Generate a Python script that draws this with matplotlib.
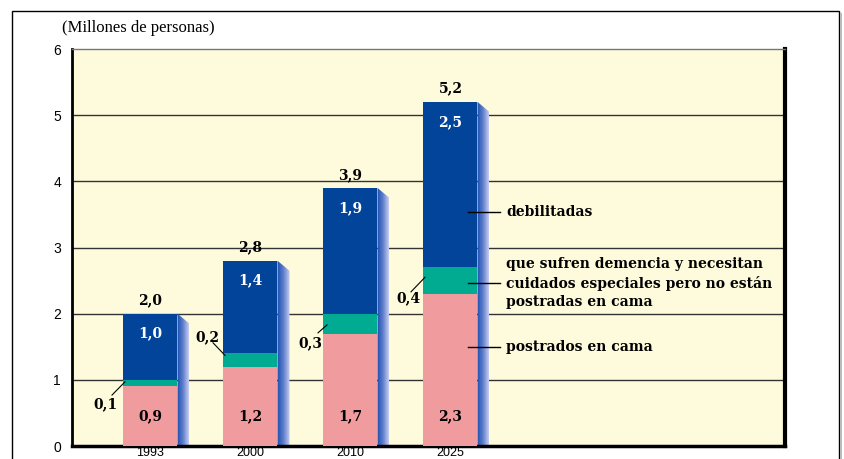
import matplotlib.pyplot as plt
import matplotlib.patches as mpatches
from matplotlib.colors import LinearSegmentedColormap
import numpy as np

years = ['1993', '2000', '2010', '2025']
postrados = [0.9, 1.2, 1.7, 2.3]
demencia = [0.1, 0.2, 0.3, 0.4]
debilitadas = [1.0, 1.4, 1.9, 2.5]
totales = [2.0, 2.8, 3.9, 5.2]

series_labels = ['debilitadas',
                 'que sufren demencia y necesitan\ncuidados especiales pero no están\npostradas en cama',
                 'postrados en cama']

c_pink = '#f09b9e'
c_teal = '#00ab92'
c_blue = '#03449b'
c_bg = '#fefadc'

def fmt(v):
    return f'{v:.1f}'.replace('.', ',')

serif = 'DejaVu Serif'
sans = 'Liberation Sans'

fig = plt.figure(figsize=(8.45, 4.59), dpi=100)
ax = fig.add_axes([72 / 845, 13 / 459, 713 / 845, 397 / 459])
ax.set_facecolor(c_bg)

for y in range(1, 6):
    ax.axhline(y, color='#333333', lw=1.0, zorder=1)

x = np.arange(len(years))
w = 0.54
ax.bar(x, postrados, width=w, color=c_pink, zorder=3)
ax.bar(x, demencia, width=w, bottom=postrados, color=c_teal, zorder=3)
bot2 = np.array(postrados) + np.array(demencia)
ax.bar(x, debilitadas, width=w, bottom=bot2, color=c_blue, zorder=3)

# side shading of each bar (gradient blue -> lavender)
grad = np.linspace(0, 1, 64).reshape(1, -1)
cmap = LinearSegmentedColormap.from_list('side', ['#1a4fb0', '#5f7fcc', '#c8cdef'])
dx = 0.12
dy = 10 / 66.2
for xi, top in zip(x, bot2 + np.array(debilitadas)):
    x0 = xi + w / 2
    poly = mpatches.Polygon([(x0, 0), (x0, top), (x0 + dx, top - dy), (x0 + dx, 0)],
                            closed=True, facecolor='none', edgecolor='none')
    ax.add_patch(poly)
    im = ax.imshow(grad, cmap=cmap, extent=(x0, x0 + dx, 0, top), aspect='auto', zorder=2.5)
    im.set_clip_path(poly)

ax.set_xlim(-0.785, 6.345)
ax.set_ylim(0, 6)

bold = dict(family=serif, fontweight='bold', fontsize=10)
for xi, p, d, b, t in zip(x, postrados, demencia, debilitadas, totales):
    ax.text(xi, t + 0.2, fmt(t), ha='center', va='center', color='black', zorder=5, **bold)
    ax.text(xi, p + d + b - 0.3, fmt(b), ha='center', va='center', color='white', zorder=5, **bold)
    ax.text(xi, 0.45, fmt(p), ha='center', va='center', color='black', zorder=5, **bold)

# teal value labels with leader lines
lbl_pos = [(-0.455, 0.63), (0.565, 1.65), (1.595, 1.56), (2.575, 2.24)]
leaders = [((-0.385, 0.77), (-0.255, 0.97)),
           ((0.625, 1.56), (0.745, 1.37)),
           ((1.675, 1.71), (1.765, 1.83)),
           ((2.605, 2.33), (2.745, 2.55))]
for d, (lx, ly), (p0, p1) in zip(demencia, lbl_pos, leaders):
    ax.text(lx, ly, fmt(d), ha='center', va='center', zorder=5, **bold)
    ax.plot([p0[0], p1[0]], [p0[1], p1[1]], color='black', lw=0.8, zorder=5)

# series labels at the right of the last bar
for lab, ly in zip(series_labels, [3.53, 2.46, 1.50]):
    ax.plot([3.175, 3.495], [ly, ly], color='black', lw=1.0, zorder=5)
    ax.text(3.555, ly, lab, ha='left', va='center', linespacing=1.4, zorder=5, **bold)

ax.set_yticks(range(0, 7))
ax.set_yticklabels([str(i) for i in range(0, 7)], family=sans, fontsize=10)
ax.set_xticks(x)
ax.set_xticklabels(years, family=sans, fontsize=9)
ax.tick_params(length=0)
ax.tick_params(axis='x', pad=1)
ax.tick_params(axis='y', pad=8)

ax.spines['top'].set_color('#777777')
ax.spines['top'].set_linewidth(1.0)
ax.spines['left'].set_linewidth(2.0)
ax.spines['bottom'].set_linewidth(2.5)
ax.spines['right'].set_linewidth(3.0)
for s in ['left', 'bottom', 'right']:
    ax.spines[s].set_color('black')

fig.text(62 / 845, 1 - 28 / 459, '(Millones de personas)', family='Liberation Serif',
         fontsize=12, ha='left', va='center')

# outer frame
fig.patches.append(mpatches.Rectangle((12 / 845, -0.05), (839 - 12) / 845, 1.05 - 11 / 459,
                                      transform=fig.transFigure, fill=False,
                                      edgecolor='black', lw=1.0))
fig.patches.append(mpatches.Rectangle((840 / 845, -0.05), 2 / 845, 1.05 - 13 / 459,
                                      transform=fig.transFigure, color='#bbbbbb', lw=0))

fig.savefig('out.png', dpi=100)
